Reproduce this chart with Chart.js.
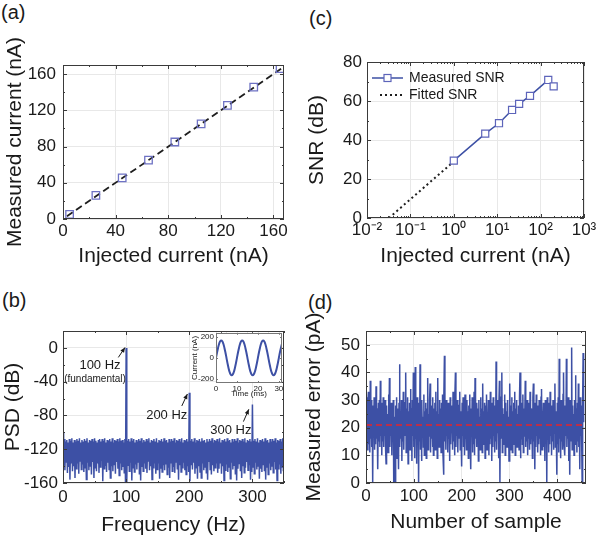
<!DOCTYPE html>
<html>
<head>
<meta charset="utf-8">
<script src="https://cdn.jsdelivr.net/npm/chart.js@4.4.1/dist/chart.umd.min.js"></script>
<style>
  html, body { margin: 0; padding: 0; background: #fff; }
  body { width: 600px; height: 538px; position: relative; overflow: hidden; font-family: 'Liberation Sans', Arial, sans-serif; }
  canvas { position: absolute; }
  .tag { position: absolute; font-size: 20px; line-height: 1; color: #1a1a1a; }
</style>
</head>
<body>
<div class="tag" style="left:1px;top:2px">(a)</div>
<div class="tag" style="left:309px;top:8px">(c)</div>
<div class="tag" style="left:2px;top:290px">(b)</div>
<div class="tag" style="left:308px;top:292px">(d)</div>

<canvas id="chartA" width="300" height="270" style="left:0;top:0"></canvas>
<canvas id="chartC" width="300" height="270" style="left:300px;top:0"></canvas>
<canvas id="chartB" width="300" height="268" style="left:0;top:270px"></canvas>
<canvas id="chartD" width="300" height="268" style="left:300px;top:270px"></canvas>
<canvas id="chartI" width="100" height="76" style="left:186px;top:326px"></canvas>

<script>
// (a) linearity
const aInjected = [5, 25, 45, 65, 85, 105, 125, 145, 165];
const aMeasured = [5, 26, 45.5, 65, 85, 105, 125.5, 145.5, 166];
const aFitX = [3, 168];
const aFitY = [3, 168];
const aTicks = [0, 40, 80, 120, 160];

// (c) SNR vs injected current
const cInjected = [1, 5.3, 11, 22, 32, 57, 150, 200];
const cSNR = [29.4, 43.3, 48.6, 55.4, 58.5, 62.6, 70.8, 67.5];
const cFitX = [0.032, 1];
const cFitY = [0, 29];
const cTicksX = [0.01, 0.1, 1, 10, 100, 1000];
const cLabelsX = ['10\u207B\u00B2', '10\u207B\u00B9', '10\u2070', '10\u00B9', '10\u00B2', '10\u00B3'];
const cTicksY = [0, 20, 40, 60, 80];

// (b) PSD, one value per Hz from 0 to 350
const bPSD = [
  -100,-139,-108,-145,-111,-135,-109,-148,-112,-141,
  -108,-156,-110,-136,-107,-146,-112,-140,-109,-154,
  -111,-143,-108,-137,-110,-149,-107,-134,-112,-144,
  -109,-138,-111,-147,-108,-142,-110,-156,-107,-136,
  -112,-145,-109,-140,-110,-150,-108,-135,-111,-154,
  -107,-142,-110,-146,-112,-137,-109,-148,-108,-141,
  -111,-134,-108,-158,-110,-143,-107,-139,-112,-147,
  -109,-136,-110,-144,-108,-154,-111,-140,-107,-146,
  -112,-138,-109,-149,-110,-135,-108,-143,-111,-151,
  -107,-137,-110,-145,-109,-141,-112,-148,-108,-160,
  0,-160,-110,-139,-108,-146,-111,-136,-107,-157,
  -110,-142,-108,-147,-112,-138,-109,-144,-111,-135,
  -108,-150,-110,-157,-107,-141,-112,-146,-109,-137,
  -111,-143,-108,-148,-110,-134,-107,-145,-112,-140,
  -109,-156,-110,-142,-108,-137,-111,-149,-107,-144,
  -112,-136,-109,-155,-110,-143,-108,-147,-111,-139,
  -107,-145,-110,-138,-109,-150,-112,-142,-108,-154,
  -111,-137,-108,-146,-110,-141,-107,-148,-112,-135,
  -109,-143,-110,-156,-108,-139,-111,-147,-107,-142,
  -112,-136,-109,-145,-110,-150,-108,-140,-111,-147,
  -53,-158,-110,-138,-108,-144,-111,-136,-107,-149,
  -112,-142,-109,-155,-110,-140,-108,-147,-111,-154,
  -107,-137,-110,-145,-109,-141,-112,-148,-108,-156,
  -111,-135,-108,-144,-110,-150,-107,-139,-112,-146,
  -109,-142,-110,-137,-108,-148,-111,-143,-107,-136,
  -112,-149,-109,-140,-110,-157,-108,-145,-111,-138,
  -107,-147,-110,-141,-109,-155,-112,-136,-108,-144,
  -111,-139,-108,-150,-110,-157,-107,-143,-112,-137,
  -109,-146,-110,-154,-108,-140,-111,-148,-107,-142,
  -112,-135,-109,-145,-110,-138,-108,-156,-111,-147,
  -67,-141,-110,-149,-108,-136,-111,-144,-107,-140,
  -112,-155,-109,-143,-110,-147,-108,-138,-111,-146,
  -107,-156,-110,-142,-109,-150,-112,-137,-108,-145,
  -111,-140,-108,-148,-110,-135,-107,-144,-112,-157,
  -109,-143,-110,-138,-108,-149,-111,-141,-107,-146,
  -110
];
const bTicksX = [0, 100, 200, 300];
const bTicksY = [0, -40, -80, -120, -160];
const bNotes = [
  { text: '100 Hz', f: 58.6, db: -20.4, size: 13 },
  { text: '(fundamental)', f: 50.7, db: -37, size: 10 },
  { text: '200 Hz', f: 164.3, db: -79.4, size: 13 },
  { text: '300 Hz', f: 265.8, db: -98.3, size: 13 }
];
const bArrows = [
  { from: [87.6, -11.3], to: [98.2, 0.5] },
  { from: [188.1, -68.8], to: [197, -54.6] },
  { from: [285.7, -87.3], to: [294.3, -72.7] }
];

// (b) inset: current waveform, one sample every 0.5 ms
const insetStep = 0.5;
const insetCurrent = [
  0,52,98,135,159,167,159,135,98,52,0,-52,-98,-135,-159,-167,-159,-135,-98,-52,
  0,52,98,135,159,167,159,135,98,52,0,-52,-98,-135,-159,-167,-159,-135,-98,-52,
  0,52,98,135,159,167,159,135,98,52,0,-52,-98,-135,-159,-167,-159,-135,-98,-52,
  0,52,98,135
];
const iTicksX = [0, 10, 20, 30];
const iTicksY = [-200, 0, 200];

// (d) measured error per sample
const dError = [
  28,15,31,12,29,33,14,27,11,37,
  16,30,13,26,0,28,17,31,12,25,
  14,35,16,27,11,5,29,15,30,13,
  37,17,26,10,29,15,31,13,24,17,
  30,12,7,28,16,25,11,32,14,38,
  13,27,17,29,10,26,15,30,0,24,
  16,0,28,14,31,9,27,17,5,29,
  43,13,26,16,30,8,28,15,33,12,
  25,17,29,40,11,27,14,31,7,26,
  16,29,12,34,15,27,8,30,17,40,
  13,28,9,42,16,26,7,31,14,25,
  0,29,15,43,12,27,8,30,17,24,
  13,32,10,26,18,29,9,27,15,38,
  12,25,17,30,36,11,28,16,24,13,
  31,10,27,18,29,12,33,15,26,9,
  38,16,25,13,30,17,27,11,29,14,
  32,10,3,28,46,15,26,12,30,17,
  24,11,29,16,27,8,31,14,25,18,
  28,12,33,15,26,10,29,40,13,27,
  17,30,11,25,16,28,33,12,26,15,
  6,29,17,31,13,27,10,32,16,25,
  12,30,18,26,9,28,15,32,13,5,
  27,17,31,11,26,14,33,10,38,16,
  25,13,29,17,27,8,30,15,24,12,
  31,16,27,11,36,14,26,18,29,9,
  28,15,32,12,25,17,30,10,27,14,
  33,16,26,8,29,13,31,17,24,11,
  28,15,44,12,27,18,30,9,26,37,
  0,28,16,31,40,11,27,14,25,17,
  32,10,29,15,26,13,30,18,24,8,
  27,36,12,28,16,31,11,26,17,29,
  14,33,10,27,15,30,13,25,18,28,
  12,31,40,9,26,16,29,14,32,11,
  27,17,24,37,13,28,15,30,10,26,
  16,29,12,33,14,27,18,25,9,31,
  36,15,26,5,29,13,32,17,25,11,
  28,14,30,16,27,10,31,34,12,26,
  17,29,13,25,8,30,15,27,0,31,
  16,26,11,29,14,33,17,24,10,28,
  15,30,12,27,18,36,13,26,16,3,
  29,14,31,11,45,16,27,9,30,15,
  25,12,32,40,14,28,10,26,17,45,
  13,29,16,31,8,27,3,30,15,26,
  49,12,28,17,25,10,30,14,39,16,
  27,11,29,15,36,13,26,5,31,17,
  28,14,0,30,47,22
];
const dMean = 21;
const dMeanX = [0, 460];
const dTicksX = [0, 100, 200, 300, 400];
const dTicksY = [0, 10, 20, 30, 40, 50];

const BLUE = '#3d50a5';
const INK = '#1a1a1a';
Chart.defaults.font.family = "'Liberation Sans', Arial, sans-serif";
Chart.defaults.color = INK;

const pts = (xs, ys) => xs.map((x, i) => ({ x: x, y: ys[i] }));
const series = (ys, step) => ys.map((y, i) => ({ x: i * step, y: y }));

// box around the plot with inward major and minor ticks
function minorValues(scale) {
  const out = [];
  if (scale.type === 'logarithmic') {
    for (let e = Math.floor(Math.log10(scale.min)); e < Math.ceil(Math.log10(scale.max)); e++) {
      for (let k = 2; k < 10; k++) {
        const v = k * Math.pow(10, e);
        if (v > scale.min && v < scale.max) out.push(v);
      }
    }
  } else {
    const vals = scale.ticks.map(t => t.value).sort((p, q) => p - q);
    const step = vals[1] - vals[0];
    for (let v = vals[0] - step / 2; v <= scale.max; v += step) {
      if (v >= scale.min) out.push(v);
    }
  }
  return out;
}

const framePlugin = {
  id: 'frame',
  beforeDatasetsDraw(chart, args, opts) {
    if (!opts.fill) return;
    const a = chart.chartArea;
    chart.ctx.save();
    chart.ctx.fillStyle = opts.fill;
    chart.ctx.fillRect(a.left, a.top, a.width, a.height);
    chart.ctx.restore();
  },
  afterDraw(chart, args, opts) {
    const { ctx, chartArea: a } = chart;
    const major = opts.major || 4, minor = opts.minor || 2;
    ctx.save();
    ctx.strokeStyle = opts.color || '#3a3a3a';
    ctx.lineWidth = 1;
    ctx.strokeRect(Math.round(a.left) + 0.5, Math.round(a.top) + 0.5, Math.round(a.width) - 1, Math.round(a.height) - 1);
    ctx.beginPath();
    Object.values(chart.scales).forEach(s => {
      const marks = s.ticks.map(t => [t.value, major]).concat(minorValues(s).map(v => [v, minor]));
      marks.forEach(([v, len]) => {
        const p = Math.round(s.getPixelForValue(v)) + 0.5;
        if (s.isHorizontal()) {
          ctx.moveTo(p, a.bottom); ctx.lineTo(p, a.bottom - len);
          ctx.moveTo(p, a.top); ctx.lineTo(p, a.top + len);
        } else {
          ctx.moveTo(a.left, p); ctx.lineTo(a.left + len, p);
          ctx.moveTo(a.right, p); ctx.lineTo(a.right - len, p);
        }
      });
    });
    ctx.stroke();
    ctx.restore();
  }
};
Chart.register(framePlugin);

function axis(o, horizontal) {
  const ticks = { font: { size: o.fontSize || 17 }, color: INK, padding: o.pad, maxRotation: 0, autoSkip: false };
  if (o.labels) ticks.callback = (v, i) => o.labels[i];
  return {
    type: o.type || 'linear',
    min: o.min,
    max: o.max,
    afterBuildTicks: s => { s.ticks = o.ticks.map(v => ({ value: v })); },
    afterFit: s => { if (horizontal) s.height = o.size; else s.width = o.size; },
    grid: { color: '#e8e8e8', drawTicks: false },
    border: { display: false },
    ticks: ticks,
    title: {
      display: true,
      text: o.title,
      color: INK,
      font: { size: o.titleSize || 21 },
      padding: horizontal ? { top: 0, bottom: o.titlePad } : { top: o.titlePad, bottom: 0 }
    }
  };
}

function baseOptions(pad, scales, plugins) {
  return {
    responsive: false,
    animation: false,
    events: [],
    layout: { padding: pad },
    plugins: Object.assign({ legend: { display: false }, tooltip: { enabled: false } }, plugins || {}),
    scales: scales
  };
}

// legend drawn inside the plot, top left, for (c)
const snrLegend = {
  id: 'snrLegend',
  afterDraw(chart) {
    const { ctx, chartArea: a } = chart;
    const ds = chart.data.datasets;
    const x0 = a.left + 5, x1 = a.left + 36, tx = a.left + 42;
    const y1 = a.top + 16, y2 = a.top + 33;
    ctx.save();
    ctx.font = "14px 'Liberation Sans', Arial, sans-serif";
    ctx.fillStyle = INK;
    ctx.textBaseline = 'middle';
    ctx.strokeStyle = ds[0].borderColor;
    ctx.lineWidth = ds[0].borderWidth;
    ctx.beginPath(); ctx.moveTo(x0, y1); ctx.lineTo(x1, y1); ctx.stroke();
    const cx = (x0 + x1) / 2;
    ctx.fillStyle = '#fff';
    ctx.fillRect(cx - 3.5, y1 - 3.5, 7, 7);
    ctx.strokeStyle = ds[0].pointBorderColor;
    ctx.lineWidth = 1.2;
    ctx.strokeRect(cx - 3.5, y1 - 3.5, 7, 7);
    ctx.fillStyle = INK;
    ctx.fillText(ds[0].label, tx, y1);
    ctx.strokeStyle = ds[1].borderColor;
    ctx.lineWidth = ds[1].borderWidth;
    ctx.setLineDash(ds[1].borderDash);
    ctx.beginPath(); ctx.moveTo(x0 + 8, y2); ctx.lineTo(x1, y2); ctx.stroke();
    ctx.setLineDash([]);
    ctx.fillText(ds[1].label, tx, y2);
    ctx.restore();
  }
};

// peak labels and arrows for (b)
const peakNotes = {
  id: 'peakNotes',
  afterDatasetsDraw(chart) {
    const { ctx, scales: { x, y } } = chart;
    ctx.save();
    ctx.fillStyle = INK;
    ctx.textAlign = 'center';
    ctx.textBaseline = 'middle';
    bNotes.forEach(n => {
      ctx.font = n.size + "px 'Liberation Sans', Arial, sans-serif";
      ctx.fillText(n.text, x.getPixelForValue(n.f), y.getPixelForValue(n.db));
    });
    ctx.strokeStyle = INK;
    ctx.lineWidth = 1;
    bArrows.forEach(ar => {
      const x0 = x.getPixelForValue(ar.from[0]), y0 = y.getPixelForValue(ar.from[1]);
      const x1 = x.getPixelForValue(ar.to[0]), y1 = y.getPixelForValue(ar.to[1]);
      const ang = Math.atan2(y1 - y0, x1 - x0);
      ctx.beginPath(); ctx.moveTo(x0, y0); ctx.lineTo(x1, y1); ctx.stroke();
      ctx.beginPath();
      ctx.moveTo(x1, y1);
      ctx.lineTo(x1 - 5 * Math.cos(ang) + 2.2 * Math.sin(ang), y1 - 5 * Math.sin(ang) - 2.2 * Math.cos(ang));
      ctx.lineTo(x1 - 5 * Math.cos(ang) - 2.2 * Math.sin(ang), y1 - 5 * Math.sin(ang) + 2.2 * Math.cos(ang));
      ctx.closePath();
      ctx.fill();
    });
    ctx.restore();
  }
};

// (a)
new Chart(document.getElementById('chartA'), {
  type: 'line',
  data: {
    datasets: [
      { data: pts(aInjected, aMeasured), showLine: false, pointStyle: 'rect', pointRadius: 5.3,
        pointBorderWidth: 1.3, pointBorderColor: '#6e72c4', pointBackgroundColor: 'rgba(255,255,255,0)' },
      { data: pts(aFitX, aFitY), borderColor: '#1e1e1e', borderWidth: 1.8, borderDash: [7, 4], pointRadius: 0 }
    ]
  },
  options: baseOptions({ top: 65, right: 16, left: 0, bottom: 0 }, {
    x: axis({ min: 0, max: 168, ticks: aTicks, size: 51, pad: 2, title: 'Injected current (nA)', titlePad: 1 }, true),
    y: axis({ min: 0, max: 170, ticks: aTicks, size: 63, pad: 7, title: 'Measured current (nA)', titlePad: 3 }, false)
  })
});

// (c)
new Chart(document.getElementById('chartC'), {
  type: 'line',
  data: {
    datasets: [
      { label: 'Measured SNR', data: pts(cInjected, cSNR), borderColor: BLUE, borderWidth: 1.5,
        pointStyle: 'rect', pointRadius: 5, pointBorderWidth: 1.2, pointBorderColor: '#5d64ba', pointBackgroundColor: '#fff' },
      { label: 'Fitted SNR', data: pts(cFitX, cFitY), borderColor: '#1e1e1e', borderWidth: 2, borderDash: [2, 3], pointRadius: 0 }
    ]
  },
  options: baseOptions({ top: 62, right: 16, left: 0, bottom: 0 }, {
    x: axis({ type: 'logarithmic', min: 0.01, max: 1000, ticks: cTicksX, labels: cLabelsX, size: 52, pad: 2, title: 'Injected current (nA)', titlePad: 1 }, true),
    y: axis({ min: 0, max: 80, ticks: cTicksY, size: 67, pad: 5, title: 'SNR (dB)', titlePad: 5 }, false)
  }),
  plugins: [snrLegend]
});

// (b)
new Chart(document.getElementById('chartB'), {
  type: 'line',
  data: {
    datasets: [
      { data: series(bPSD, 1), borderColor: BLUE, borderWidth: 1.5, pointRadius: 0 }
    ]
  },
  options: baseOptions({ top: 61, right: 16, left: 0, bottom: 0 }, {
    x: axis({ min: 0, max: 350, ticks: bTicksX, size: 55, pad: 4, title: 'Frequency (Hz)', titlePad: 0 }, true),
    y: axis({ min: -160, max: 20, ticks: bTicksY, size: 63, pad: 5, title: 'PSD (dB)', titlePad: 1 }, false)
  }),
  plugins: [peakNotes]
});

// (b) inset
new Chart(document.getElementById('chartI'), {
  type: 'line',
  data: {
    datasets: [
      { data: series(insetCurrent, insetStep), borderColor: BLUE, borderWidth: 2, pointRadius: 0, tension: 0.4 }
    ]
  },
  options: baseOptions({ top: 6, right: 4, left: 0, bottom: 0 }, {
    x: axis({ min: 0, max: 31.5, ticks: iTicksX, size: 19, pad: 1, title: 'Time (ms)', titlePad: 3, fontSize: 8, titleSize: 8 }, true),
    y: axis({ min: -240, max: 240, ticks: iTicksY, size: 30, pad: 2, title: 'Current (nA)', titlePad: 4, fontSize: 8, titleSize: 8 }, false)
  }, { frame: { major: 2, minor: 1, fill: '#fff', color: '#777' } })
});

// (d)
new Chart(document.getElementById('chartD'), {
  type: 'line',
  data: {
    datasets: [
      { data: pts(dMeanX, [dMean, dMean]), borderColor: '#e5232b', borderWidth: 1.6, borderDash: [6, 4], pointRadius: 0 },
      { data: series(dError, 1), borderColor: BLUE, borderWidth: 1.5, pointRadius: 0 }
    ]
  },
  options: baseOptions({ top: 61, right: 14, left: 0, bottom: 0 }, {
    x: axis({ min: 0, max: 460, ticks: dTicksX, size: 55, pad: 3, title: 'Number of sample', titlePad: 3 }, true),
    y: axis({ min: 0, max: 55, ticks: dTicksY, size: 66, pad: 6, title: 'Measured error (pA)', titlePad: 2 }, false)
  })
});
</script>
</body>
</html>
